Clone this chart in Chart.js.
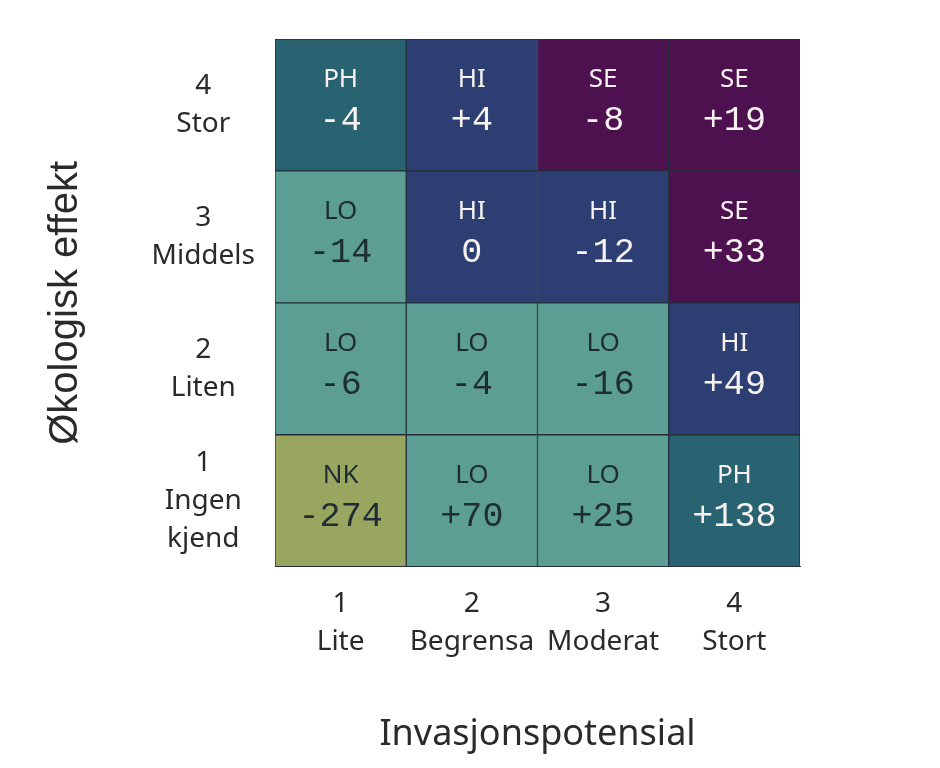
<!DOCTYPE html>
<html>
<head>
<meta charset="utf-8">
<script src="https://cdn.jsdelivr.net/npm/chart.js@4.4.0/dist/chart.umd.min.js"></script>
<style>
    html, body { margin: 0; padding: 0; background: #ffffff; }
    #wrap { width: 940px; height: 768px; }
</style>
</head>
<body>
<div id="wrap"><canvas id="matrix" width="940" height="768"></canvas></div>
<script>
// Invasjonspotensial (x) - columns 1..4
const xLabels = [['1', 'Lite'], ['2', 'Begrensa'], ['3', 'Moderat'], ['4', 'Stort']];
// Økologisk effekt (y) - top to bottom
const yLabels = [['4', 'Stor'], ['3', 'Middels'], ['2', 'Liten'], ['1', 'Ingen', 'kjend']];

// rows from bottom (1) to top (4), one value per column
const rowCodes = [
    ['NK', 'LO', 'LO', 'PH'],
    ['LO', 'LO', 'LO', 'HI'],
    ['LO', 'HI', 'HI', 'SE'],
    ['PH', 'HI', 'SE', 'SE'],
];
const rowChanges = [
    [-274, 70, 25, 138],
    [-6, -4, -16, 49],
    [-14, 0, -12, 33],
    [-4, 4, -8, 19],
];

const codeColors = {
    NK: '#99a65f',
    LO: '#5c9e94',
    PH: '#296371',
    HI: '#2d3f72',
    SE: '#4e1150',
};
const darkText = '#1f2c33';
const lightText = '#f7f2f0';
const lightCodes = ['NK', 'LO'];

const formatChange = function (v) {
    if (v > 0) return '+' + v;
    return String(v);
};

const cellLabels = {
    id: 'cellLabels',
    afterDatasetsDraw(chart) {
        const ctx = chart.ctx;
        ctx.save();
        ctx.textAlign = 'center';
        ctx.textBaseline = 'middle';
        chart.data.datasets.forEach((ds, di) => {
            const meta = chart.getDatasetMeta(di);
            meta.data.forEach((bar, i) => {
                const code = rowCodes[di][i];
                const cy = (bar.y + bar.base) / 2;
                ctx.fillStyle = lightCodes.includes(code) ? darkText : lightText;
                ctx.font = '26px "Noto Sans"';
                ctx.fillText(code, bar.x, cy - 25);
                ctx.font = '35px "Liberation Mono"';
                ctx.fillText(formatChange(rowChanges[di][i]), bar.x, cy + 16);
            });
        });
        ctx.restore();
    }
};

const datasets = rowCodes.map((codes, r) => ({
    label: 'Rad ' + (r + 1),
    data: codes.map(() => 1),
    backgroundColor: codes.map(c => codeColors[c]),
    borderColor: '#22313a',
    borderWidth: 1,
    borderSkipped: false,
    barPercentage: 1,
    categoryPercentage: 1,
}));

const tickFont = {family: '"Noto Sans"', size: 28, lineHeight: 1.36};

new Chart(document.getElementById('matrix'), {
    type: 'bar',
    data: {
        labels: xLabels,
        datasets: datasets,
    },
    options: {
        responsive: false,
        animation: false,
        layout: {
            padding: {left: 42, right: 140, top: 39, bottom: 12}
        },
        plugins: {
            legend: {display: false},
            tooltip: {enabled: false},
        },
        scales: {
            x: {
                stacked: true,
                grid: {display: false, drawTicks: false},
                border: {display: true, color: '#22313a', width: 1},
                ticks: {
                    color: '#2a2a2a',
                    font: tickFont,
                    padding: 18,
                    maxRotation: 0,
                    autoSkip: false,
                },
                title: {
                    display: true,
                    text: 'Invasjonspotensial',
                    color: '#2a2a2a',
                    font: {family: '"Noto Sans"', size: 36},
                    padding: {top: 34, bottom: 0},
                },
            },
            y: {
                stacked: true,
                display: false,
                min: 0,
                max: 4,
            },
            yl: {
                type: 'category',
                labels: yLabels,
                position: 'left',
                offset: true,
                grid: {display: false, drawTicks: false},
                border: {display: false},
                ticks: {
                    color: '#2a2a2a',
                    font: tickFont,
                    crossAlign: 'center',
                    padding: 20,
                },
                title: {
                    display: true,
                    text: 'Økologisk effekt',
                    color: '#2a2a2a',
                    font: {family: '"Liberation Sans"', size: 40},
                    padding: 0,
                },
                afterFit(scale) {
                    scale.width = 233;
                    scale.paddingTop = 0;
                    scale.paddingBottom = 0;
                },
            },
        },
    },
    plugins: [cellLabels],
});
</script>
</body>
</html>
